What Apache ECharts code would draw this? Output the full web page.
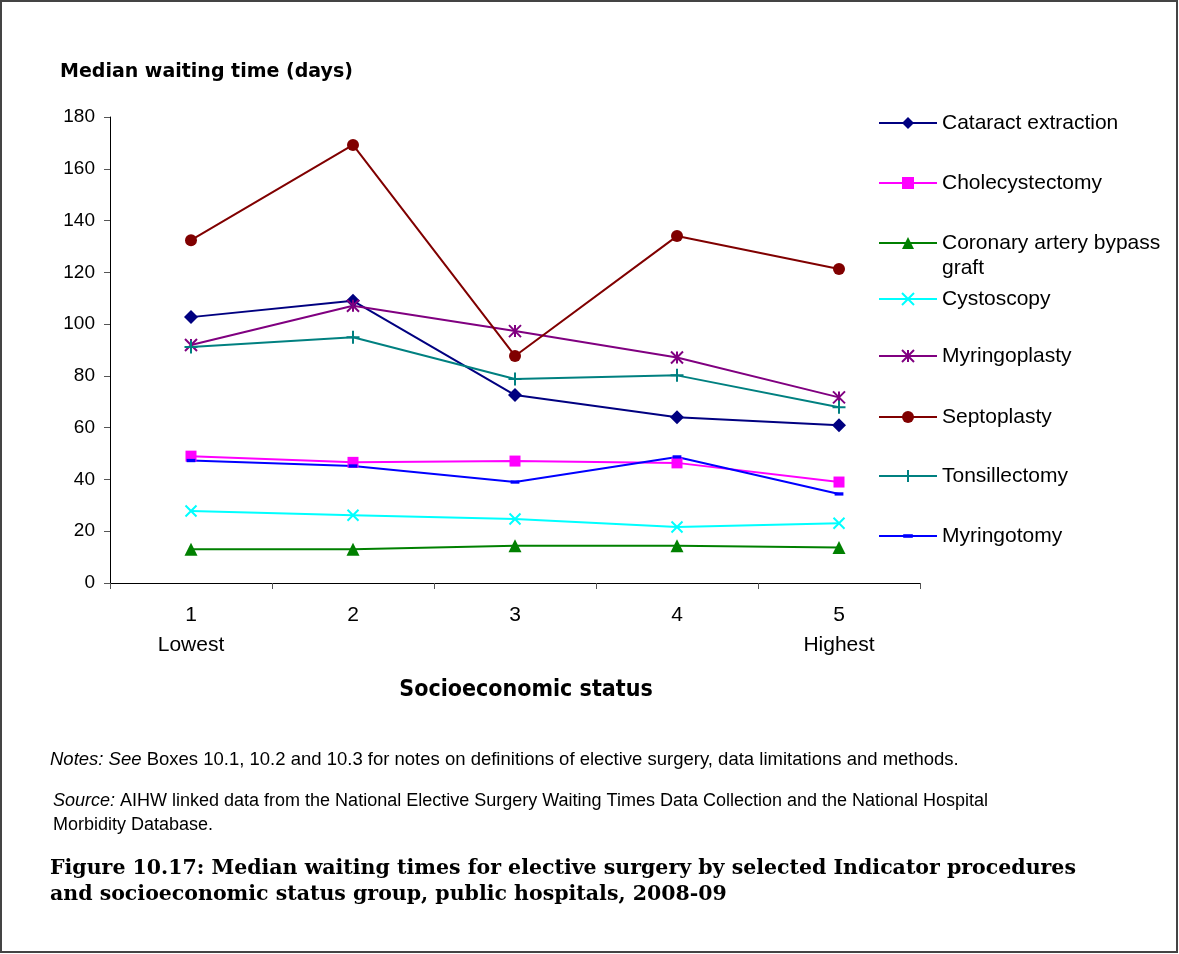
<!DOCTYPE html>
<html>
<head>
<meta charset="utf-8">
<title>Median waiting times by socioeconomic status</title>
<script src="https://cdn.jsdelivr.net/npm/echarts@6/dist/echarts.min.js"></script>
<style>
  html, body { margin: 0; padding: 0; background: #fff; }
  #chart { width: 1179px; height: 954px; }
</style>
</head>
<body>
<div id="chart"></div>
<script>
// Socioeconomic status groups (1 = lowest, 5 = highest)
const categories = ['1', '2', '3', '4', '5'];
const categoryLabels = ['1\nLowest', '2', '3', '4', '5\nHighest'];

// Median waiting time (days) per procedure
const cataract       = [102.7, 109.0, 72.6, 64.0, 60.9];
const cholecystectomy = [49.0, 46.6, 47.1, 46.4, 39.0];
const cabg           = [13.0, 13.0, 14.4, 14.4, 13.7];
const cystoscopy     = [27.8, 26.2, 24.7, 21.6, 23.1];
const myringoplasty  = [91.9, 107.1, 97.3, 87.1, 71.7];
const septoplasty    = [132.4, 169.2, 87.7, 134.0, 121.3];
const tonsillectomy  = [91.2, 94.9, 78.8, 80.2, 67.9];
const myringotomy    = [47.3, 45.2, 39.0, 48.7, 34.4];

// Y axis range
const yMin = 0, yMax = 180, yStep = 20;

const SANS = "'Liberation Sans', Arial, sans-serif";
const WIDE_BOLD = "'DejaVu Sans', 'Liberation Sans', sans-serif";
const COND = "'DejaVu Sans Condensed', 'DejaVu Sans', sans-serif";
const SERIF = "'DejaVu Serif', 'Liberation Serif', serif";

// Stroke-drawn marker shapes
const SYM_X = 'path://M0,0L10,10M10,0L0,10';
const SYM_STAR = 'path://M0,0L10,10M10,0L0,10M5,0L5,10';
const SYM_PLUS = 'path://M5,0L5,10M0,5L10,5';
const SYM_DASH = 'path://M0,0M10,10M1,3.5L9,3.5L9,6.5L1,6.5Z';

function filledSeries(name, data, color, symbol, size) {
  return {
    name, type: 'line', data,
    symbol, symbolSize: size,
    lineStyle: { color, width: 2 },
    itemStyle: { color },
    z: 3
  };
}
function strokedSeries(name, data, color, symbol, size) {
  return {
    name, type: 'line', data,
    symbol, symbolSize: size,
    lineStyle: { color, width: 2 },
    itemStyle: { color: 'rgba(0,0,0,0)', borderColor: color, borderWidth: 2 },
    z: 3
  };
}

const seriesList = [
  filledSeries('Cataract extraction', cataract, '#000080', 'diamond', 14),
  filledSeries('Cholecystectomy', cholecystectomy, '#FF00FF', 'rect', 11),
  filledSeries('Coronary artery bypass graft', cabg, '#008000', 'triangle', 13),
  strokedSeries('Cystoscopy', cystoscopy, '#00FFFF', SYM_X, 11),
  strokedSeries('Myringoplasty', myringoplasty, '#800080', SYM_STAR, 12),
  filledSeries('Septoplasty', septoplasty, '#800000', 'circle', 12),
  strokedSeries('Tonsillectomy', tonsillectomy, '#008080', SYM_PLUS, 13),
  filledSeries('Myringotomy', myringotomy, '#0000FF', SYM_DASH, 11)
];

// Legend rows on the right, one per procedure
const legendRows = [
  { name: 'Cataract extraction', y: 123 },
  { name: 'Cholecystectomy', y: 183 },
  { name: 'Coronary artery bypass graft', y: 243, wrap: true },
  { name: 'Cystoscopy', y: 299 },
  { name: 'Myringoplasty', y: 356 },
  { name: 'Septoplasty', y: 417 },
  { name: 'Tonsillectomy', y: 476 },
  { name: 'Myringotomy', y: 536 }
];
const LEG_H = 15, LEG_LINE = 25;
const legends = legendRows.map(r => ({
  show: true,
  data: [r.name],
  left: 878,
  top: r.wrap ? r.y - LEG_LINE * 1.5 : r.y - LEG_LINE / 2,
  padding: 0,
  itemWidth: 58,
  itemHeight: LEG_H,
  itemGap: 0,
  selectedMode: false,
  // the wrapped label keeps its first line level with the marker
  formatter: r.wrap ? ' \nCoronary artery bypass\ngraft' : '{name}',
  textStyle: {
    fontFamily: SANS, fontSize: 21, color: '#000',
    lineHeight: LEG_LINE
  }
}));

const chart = echarts.init(document.getElementById('chart'), null, { renderer: 'canvas' });
chart.setOption({
  animation: false,
  backgroundColor: '#fff',
  grid: { left: 110, right: 259, top: 117, bottom: 371, containLabel: false },
  legend: legends,
  xAxis: {
    type: 'category',
    data: categories,
    boundaryGap: true,
    axisLine: { lineStyle: { color: '#000', width: 1 } },
    axisTick: { show: true, length: 6, lineStyle: { color: '#555' } },
    axisLabel: {
      margin: 17,
      fontFamily: SANS, fontSize: 21, color: '#000', lineHeight: 30,
      formatter: (v, i) => categoryLabels[i]
    },
    splitLine: { show: false }
  },
  yAxis: {
    type: 'value',
    min: yMin, max: yMax, interval: yStep,
    axisLine: { show: true, lineStyle: { color: '#000', width: 1 } },
    axisTick: { show: true, length: 6, lineStyle: { color: '#555' } },
    axisLabel: { margin: 15, fontFamily: SANS, fontSize: 19, color: '#000' },
    splitLine: { show: false }
  },
  series: seriesList,
  graphic: [
    { type: 'rect', shape: { x: 1, y: 1, width: 1176, height: 951 },
      style: { fill: 'none', stroke: '#444', lineWidth: 2 }, silent: true },
    { type: 'text', x: 60, y: 72,
      style: { text: 'Median waiting time (days)', font: "bold 19px " + WIDE_BOLD,
               fill: '#000', textAlign: 'left', textVerticalAlign: 'middle' } },
    { type: 'text', x: 526, y: 690,
      style: { text: 'Socioeconomic status', font: "bold 23px " + COND,
               fill: '#000', textAlign: 'center', textVerticalAlign: 'middle' } },
    { type: 'text', x: 50, y: 760,
      style: {
        text: '{i|Notes: See} Boxes 10.1, 10.2 and 10.3 for notes on definitions of elective surgery, data limitations and methods.',
        font: "18.5px " + SANS, fill: '#000', textAlign: 'left', textVerticalAlign: 'middle',
        rich: { i: { fontStyle: 'italic', fontFamily: SANS, fontSize: 18.5 } }
      } },
    { type: 'text', x: 53, y: 789,
      style: {
        text: '{i|Source:} AIHW linked data from the National Elective Surgery Waiting Times Data Collection and the National Hospital\nMorbidity Database.',
        font: "18px " + SANS, fill: '#000', textAlign: 'left', textVerticalAlign: 'top',
        lineHeight: 24,
        rich: { i: { fontStyle: 'italic', fontFamily: SANS, fontSize: 18, lineHeight: 24 } }
      } },
    { type: 'text', x: 50, y: 856,
      style: {
        text: 'Figure 10.17: Median waiting times for elective surgery by selected Indicator procedures\nand socioeconomic status group, public hospitals, 2008-09',
        font: "bold 20.5px " + SERIF, fill: '#000', textAlign: 'left', textVerticalAlign: 'top',
        lineHeight: 26
      } }
  ]
});
</script>
</body>
</html>
